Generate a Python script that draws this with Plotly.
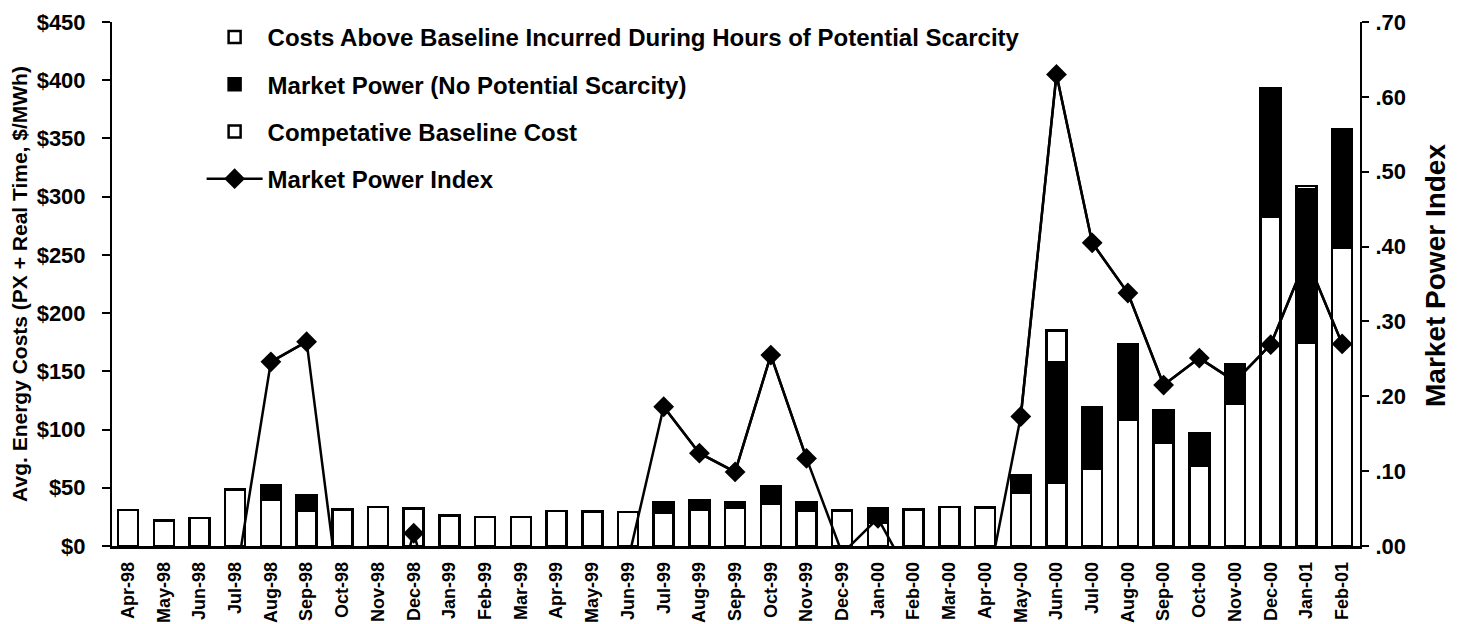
import plotly.graph_objects as go

months = ["Apr-98", "May-98", "Jun-98", "Jul-98", "Aug-98", "Sep-98", "Oct-98", "Nov-98",
          "Dec-98", "Jan-99", "Feb-99", "Mar-99", "Apr-99", "May-99", "Jun-99", "Jul-99",
          "Aug-99", "Sep-99", "Oct-99", "Nov-99", "Dec-99", "Jan-00", "Feb-00", "Mar-00",
          "Apr-00", "May-00", "Jun-00", "Jul-00", "Aug-00", "Sep-00", "Oct-00", "Nov-00",
          "Dec-00", "Jan-01", "Feb-01"]

baseline = [31, 22, 24, 48.5, 40, 30, 31.5, 33.5, 32, 26, 25, 25, 30, 29.5, 29, 28.6,
            31, 33, 36, 30.5, 30.5, 20, 31.5, 33.5, 33, 46, 54.5, 66.5, 108.7, 88.7,
            68.7, 122, 283, 174.5, 256]

market_power = [0, 0, 0, 0, 12, 13.5, 0, 0, 0, 0, 0, 0, 0, 0, 0, 9.4,
                8, 5, 15.5, 7.5, 0, 12, 0, 0, 0, 14.5, 103, 52.5, 63, 28.3,
                28.3, 33.7, 110, 131.5, 101.5]

scarcity = [0, 0, 0, 0, 0, 0, 0, 0, 0, 0, 0, 0, 0, 0, 0, 0,
            0, 0, 0, 0, 0, 0, 0, 0, 0, 0, 27.5, 0, 1.5, 0,
            0, 0, 0, 3, 0]

market_power_index = [None, None, None, -0.05, 0.246, 0.273, -0.10, -0.15, 0.017, -0.15,
                      None, None, None, None, -0.02, 0.186, 0.124, 0.099, 0.255, 0.117,
                      -0.01, 0.037, -0.05, None, -0.07, 0.173, 0.63, 0.405, 0.338, 0.215,
                      0.251, 0.22, 0.269, 0.385, 0.27]

left_ticks = [0, 50, 100, 150, 200, 250, 300, 350, 400, 450]
left_labels = ["$0", "$50", "$100", "$150", "$200", "$250", "$300", "$350", "$400", "$450"]
right_ticks = [0, 0.1, 0.2, 0.3, 0.4, 0.5, 0.6, 0.7]
right_labels = [".00", ".10", ".20", ".30", ".40", ".50", ".60", ".70"]

FONT = "Liberation Sans, Arial, sans-serif"
x = list(range(len(months)))
outline = dict(color="black", width=2.5)

fig = go.Figure()
fig.add_trace(go.Bar(x=x, y=baseline, name="Competative Baseline Cost", width=0.56,
                     marker=dict(color="white", line=outline),
                     legendrank=3, legendgroup="g3"))
fig.add_trace(go.Bar(x=x, y=market_power, name="Market Power (No Potential Scarcity)", width=0.56,
                     marker=dict(color="black", line=outline),
                     legendrank=2, legendgroup="g2"))
fig.add_trace(go.Bar(x=x, y=scarcity,
                     name="Costs Above Baseline Incurred During Hours of Potential Scarcity",
                     width=0.56, marker=dict(color="white", line=outline),
                     legendrank=1, legendgroup="g1"))
# full line (includes values below the axis, clipped by the plot area)
fig.add_trace(go.Scatter(x=x, y=market_power_index, mode="lines", yaxis="y2",
                         line=dict(color="black", width=2.5), showlegend=False,
                         hoverinfo="skip"))
visible_mpi = [v if (v is not None and v >= 0) else None for v in market_power_index]
fig.add_trace(go.Scatter(x=x, y=visible_mpi, mode="lines+markers", yaxis="y2",
                         name="Market Power Index",
                         line=dict(color="black", width=2.5),
                         marker=dict(symbol="diamond", size=16, color="black"),
                         legendrank=4, legendgroup="g4"))

# the page body keeps its default 8px margin, so the figure is offset by 8px
fig.update_layout(
    width=1452, height=616,
    margin=dict(l=104, r=100, t=14, b=78, autoexpand=False),
    paper_bgcolor="white", plot_bgcolor="white",
    barmode="stack",
    font=dict(family=FONT, color="black", weight="bold"),
    showlegend=True,
    legend=dict(x=0.0718, y=1.0134, xanchor="left", yanchor="top",
                font=dict(size=24, family=FONT, color="black", weight="bold"),
                bgcolor="rgba(0,0,0,0)", tracegroupgap=13, itemwidth=56,
                traceorder="grouped"),
    xaxis=dict(range=[-0.45, 34.5], tickmode="array", tickvals=x, ticktext=months,
               tickangle=-90, tickfont=dict(size=18, family=FONT, weight="bold"),
               showline=True, linecolor="black", linewidth=2.5, showgrid=False,
               zeroline=False, ticks="", ticklabelstandoff=6, automargin=False),
    yaxis=dict(range=[0, 450], tickmode="array", tickvals=left_ticks, ticktext=left_labels,
               ticks="outside", ticklen=8, tickwidth=2, tickcolor="black",
               showline=True, linecolor="black", linewidth=2, showgrid=False,
               zeroline=False, tickfont=dict(size=22, family=FONT, weight="bold"),
               ticklabelstandoff=12, automargin=False,
               title=dict(text="Avg. Energy Costs (PX + Real Time, $/MWh)",
                          font=dict(size=21, family=FONT, weight="bold"), standoff=8)),
    yaxis2=dict(range=[0, 0.7], overlaying="y", side="right", anchor="x",
                tickmode="array", tickvals=right_ticks, ticktext=right_labels,
                ticks="outside", ticklen=7, tickwidth=2, tickcolor="black",
                showline=True, linecolor="black", linewidth=2, showgrid=False,
                zeroline=False, tickfont=dict(size=22, family=FONT, weight="bold"),
                ticklabelstandoff=2, automargin=False),
    yaxis3=dict(range=[0, 0.7], overlaying="y", side="right", anchor="x",
                tickmode="array", tickvals=right_ticks, ticks="inside", ticklen=10,
                tickwidth=2, tickcolor="black", showticklabels=False, showline=False,
                showgrid=False, zeroline=False, automargin=False),
    annotations=[dict(text="Market Power Index", xref="paper", yref="paper",
                      x=1.060, y=0.517, xanchor="center", yanchor="middle",
                      textangle=-90, showarrow=False,
                      font=dict(size=28, family=FONT, color="black", weight="bold"))],
)

fig.write_html("out.html")
